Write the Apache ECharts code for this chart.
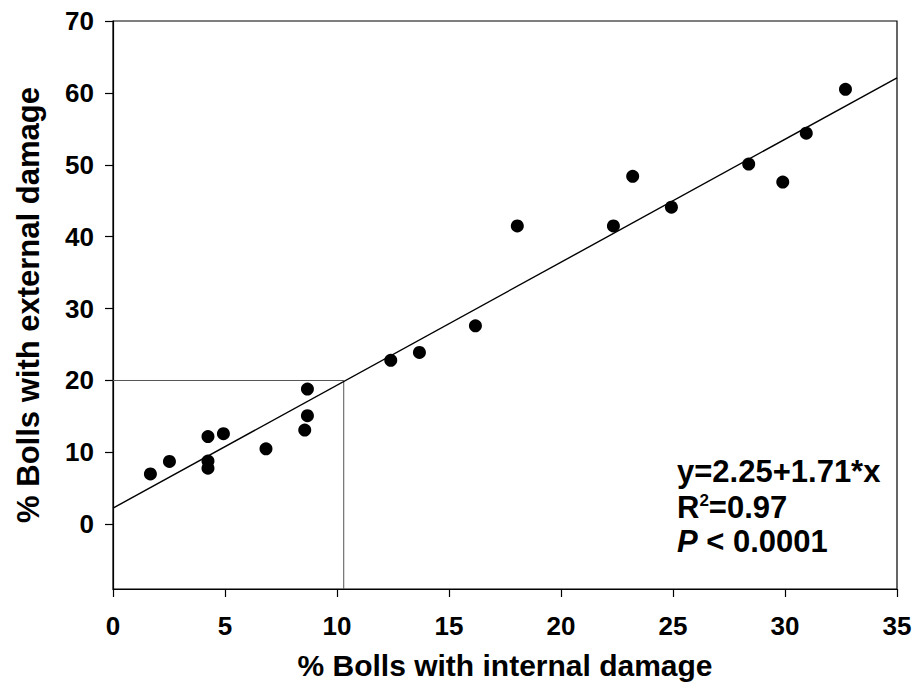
<!DOCTYPE html>
<html>
<head>
<meta charset="utf-8">
<script src="https://cdn.jsdelivr.net/npm/echarts@6/dist/echarts.min.js"></script>
<style>
html,body{margin:0;padding:0;background:#fff;}
#chart{width:916px;height:698px;}
</style>
</head>
<body>
<div id="chart"></div>
<script>
// Observed points: % bolls with internal damage (x) vs external damage (y)
var internalDamage = [1.67, 2.52, 4.24, 4.24, 4.24, 4.93, 6.83, 8.56, 8.68, 8.68, 12.4, 13.68, 16.18, 18.05, 22.34, 23.2, 24.93, 28.38, 29.9, 30.95, 32.7];
var externalDamage = [7.0, 8.75, 12.2, 8.8, 7.8, 12.6, 10.5, 13.1, 15.1, 18.8, 22.8, 23.9, 27.6, 41.5, 41.5, 48.4, 44.1, 50.1, 47.6, 54.4, 60.5];
// Regression line endpoints (y = 2.25 + 1.71x)
var fitX = [0, 35];
var fitY = [2.25, 62.1];
// Threshold guide lines
var guideX = [0, 10.3, 10.3];
var guideY = [20, 20, -9];
// Tick labels
var xTicks = [0, 5, 10, 15, 20, 25, 30, 35];
var yTicks = [0, 10, 20, 30, 40, 50, 60, 70];
var annotation = ['y=2.25+1.71*x', 'R', '2', '=0.97', 'P', ' < 0.0001'];

var FONT = '"Liberation Sans", Arial, Helvetica, sans-serif';

function zip(a, b) { return a.map(function (v, i) { return [v, b[i]]; }); }

var chart = echarts.init(document.getElementById('chart'), null, {renderer: 'svg'});
chart.setOption({
  backgroundColor: '#ffffff',
  animation: false,
  grid: {left: 113, top: 21, right: 19, bottom: 109, show: true, borderColor: '#000', borderWidth: 1.2, backgroundColor: 'transparent'},
  xAxis: {
    type: 'value', min: 0, max: 35, interval: 5,
    name: '% Bolls with internal damage', nameLocation: 'middle', nameGap: 61,
    nameTextStyle: {fontFamily: FONT, fontWeight: 'bold', fontSize: 30, color: '#000'},
    axisLine: {show: true, onZero: false, lineStyle: {color: '#000', width: 1.2}},
    axisTick: {show: true, inside: false, length: 8, lineStyle: {color: '#000', width: 1.2}},
    axisLabel: {fontFamily: FONT, fontWeight: 'bold', fontSize: 26, color: '#000', margin: 24,
      formatter: function (v) { return xTicks.indexOf(v) >= 0 ? String(v) : ''; }},
    splitLine: {show: false}
  },
  yAxis: {
    type: 'value', min: -9, max: 70,
    name: '% Bolls with external damage', nameLocation: 'middle', nameGap: 69,
    nameTextStyle: {fontFamily: FONT, fontWeight: 'bold', fontSize: 31, color: '#000'},
    axisLine: {show: true, onZero: false, lineStyle: {color: '#000', width: 1.2}},
    axisTick: {show: true, inside: false, length: 8, customValues: yTicks, lineStyle: {color: '#000', width: 1.2}},
    axisLabel: {fontFamily: FONT, fontWeight: 'bold', fontSize: 26, color: '#000', margin: 19, customValues: yTicks},
    splitLine: {show: false}
  },
  graphic: [
    {type: 'text', left: 677, top: 456, style: {text: annotation[0], font: 'bold 31px ' + FONT, fill: '#000'}},
    {type: 'text', left: 677, top: 492, style: {
      text: '{n|' + annotation[1] + '}{s|' + annotation[2] + '}{n|' + annotation[3] + '}',
      rich: {
        n: {fontFamily: FONT, fontWeight: 'bold', fontSize: 31, lineHeight: 31, verticalAlign: 'bottom', fill: '#000', color: '#000'},
        s: {fontFamily: FONT, fontWeight: 'bold', fontSize: 17, lineHeight: 31, verticalAlign: 'top', fill: '#000', color: '#000'}
      }
    }},
    {type: 'text', left: 677, top: 526, style: {
      text: '{i|' + annotation[4] + '}{n|' + annotation[5] + '}',
      rich: {
        i: {fontFamily: FONT, fontWeight: 'bold', fontStyle: 'italic', fontSize: 31, fill: '#000', color: '#000'},
        n: {fontFamily: FONT, fontWeight: 'bold', fontSize: 31, fill: '#000', color: '#000'}
      }
    }}
  ],
  series: [
    {
      type: 'line', data: zip(guideX, guideY), symbol: 'none', silent: true,
      lineStyle: {color: '#555', width: 1}, z: 1
    },
    {
      type: 'line', data: zip(fitX, fitY), symbol: 'none', silent: true,
      lineStyle: {color: '#000', width: 1.4}, z: 2
    },
    {
      type: 'scatter', data: zip(internalDamage, externalDamage), symbol: 'circle', symbolSize: 13,
      itemStyle: {color: '#000', opacity: 1}, z: 3
    }
  ]
});
</script>
</body>
</html>
